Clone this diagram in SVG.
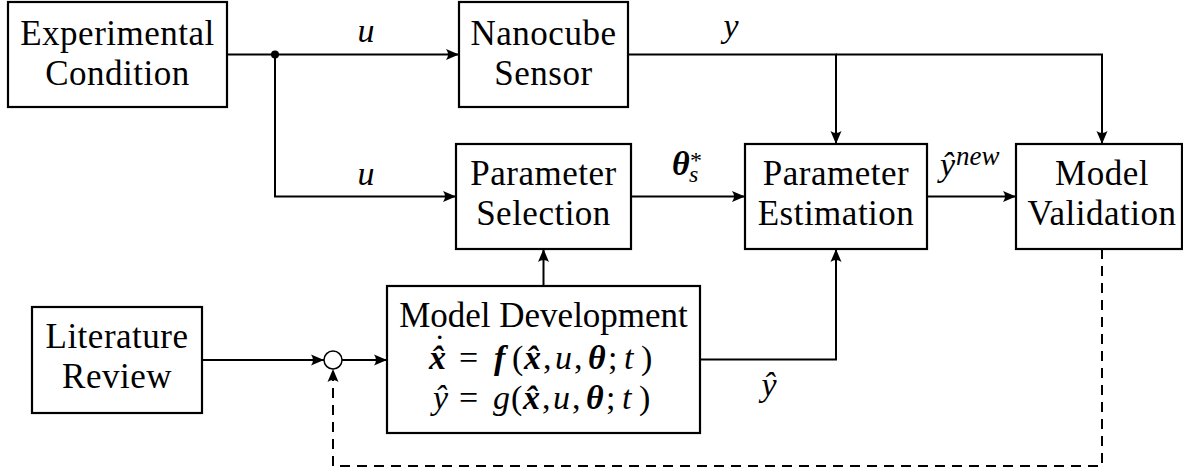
<svg xmlns="http://www.w3.org/2000/svg" width="1183" height="471" viewBox="0 0 1183 471" style="font-family:'Liberation Serif','Times New Roman',Times,serif">
<defs>
<marker id="arr" markerUnits="userSpaceOnUse" markerWidth="16" markerHeight="14" refX="14" refY="7" orient="auto" viewBox="0 0 16 14">
<path d="M14,7 L1,1.5 Q5,7 1,12.5 Z" fill="#000" stroke="none"/>
</marker>
</defs>
<rect width="1183" height="471" fill="#fff"/>

<g id="connectors" fill="none" stroke="#000" stroke-width="2">
<path marker-end="url(#arr)" d="M227,54.5 H459"/>
<circle cx="275" cy="54.5" r="4" fill="#000" stroke="none"/>
<path marker-end="url(#arr)" d="M275,54.5 V196.5 H456"/>
<path marker-end="url(#arr)" d="M628,54.5 H836 V144"/>
<path marker-end="url(#arr)" d="M836,54.5 H1102 V144"/>
<path marker-end="url(#arr)" d="M631,196.5 H745"/>
<path marker-end="url(#arr)" d="M927,196.5 H1016"/>
<path marker-end="url(#arr)" d="M543.5,286 V249"/>
<path marker-end="url(#arr)" d="M700,359.5 H836 V249"/>
<path marker-end="url(#arr)" d="M202,360 H324"/>
<path marker-end="url(#arr)" d="M342,360 H387"/>
<path marker-end="url(#arr)" stroke-dasharray="10 7" d="M1102,249 V466 H333 V369"/>
</g>

<g id="labels" fill="#000" stroke="none">
<text style="font-family:'Liberation Serif',serif;font-size:34px;font-style:italic" x="366" y="42" text-anchor="middle">u</text>
<text style="font-family:'Liberation Serif',serif;font-size:34px;font-style:italic" x="366" y="185" text-anchor="middle">u</text>
<text style="font-family:'Liberation Serif',serif;font-size:34px;font-style:italic" x="731" y="37" text-anchor="middle">y</text>
<text style="font-family:'Liberation Serif',serif;font-size:34px" y="175"><tspan style="font-style:italic;font-weight:bold" x="672">θ</tspan><tspan x="690" y="168" style="font-size:24px">*</tspan><tspan style="font-style:italic;font-size:24px" x="689" y="182">s</tspan></text>
<text style="font-family:'Liberation Serif',serif;font-size:34px;font-style:italic" y="176"><tspan x="940">ŷ</tspan><tspan x="956" y="165" style="font-size:27px">new</tspan></text>
<text style="font-family:'Liberation Serif',serif;font-size:34px;font-style:italic" x="769" y="396" text-anchor="middle">ŷ</text>
</g>

<g id="junction">
<circle cx="333" cy="360" r="9" fill="#fff" stroke="#000" stroke-width="1.5"/>
</g>

<g id="experimental-condition">
<rect x="8" y="2" width="219" height="105" fill="#fff" stroke="#000" stroke-width="2.2"/>
<text style="font-family:'Liberation Serif',serif;font-size:35px;letter-spacing:0.5px" text-anchor="middle" x="117.5" y="45">Experimental</text>
<text style="font-family:'Liberation Serif',serif;font-size:35px;letter-spacing:0.5px" text-anchor="middle" x="117.5" y="85">Condition</text>
</g>

<g id="nanocube-sensor">
<rect x="459" y="2" width="169" height="105" fill="#fff" stroke="#000" stroke-width="2.2"/>
<text style="font-family:'Liberation Serif',serif;font-size:35px;letter-spacing:0.5px" text-anchor="middle" x="543.5" y="45">Nanocube</text>
<text style="font-family:'Liberation Serif',serif;font-size:35px;letter-spacing:0.5px" text-anchor="middle" x="543.5" y="85">Sensor</text>
</g>

<g id="parameter-selection">
<rect x="456" y="144" width="175" height="105" fill="#fff" stroke="#000" stroke-width="2.2"/>
<text style="font-family:'Liberation Serif',serif;font-size:35px;letter-spacing:0.5px" text-anchor="middle" x="543.5" y="185">Parameter</text>
<text style="font-family:'Liberation Serif',serif;font-size:35px;letter-spacing:0.5px" text-anchor="middle" x="543.5" y="225">Selection</text>
</g>

<g id="parameter-estimation">
<rect x="745" y="144" width="182" height="105" fill="#fff" stroke="#000" stroke-width="2.2"/>
<text style="font-family:'Liberation Serif',serif;font-size:35px;letter-spacing:0.5px" text-anchor="middle" x="836" y="185">Parameter</text>
<text style="font-family:'Liberation Serif',serif;font-size:35px;letter-spacing:0.5px" text-anchor="middle" x="836" y="225">Estimation</text>
</g>

<g id="model-validation">
<rect x="1016" y="144" width="166" height="105" fill="#fff" stroke="#000" stroke-width="2.2"/>
<text style="font-family:'Liberation Serif',serif;font-size:35px;letter-spacing:0.5px" text-anchor="middle" x="1102" y="185">Model</text>
<text style="font-family:'Liberation Serif',serif;font-size:35px;letter-spacing:0.5px" text-anchor="middle" x="1102" y="225">Validation</text>
</g>

<g id="literature-review">
<rect x="32" y="307" width="170" height="106" fill="#fff" stroke="#000" stroke-width="2.2"/>
<text style="font-family:'Liberation Serif',serif;font-size:35px;letter-spacing:0.5px" text-anchor="middle" x="117" y="348">Literature</text>
<text style="font-family:'Liberation Serif',serif;font-size:35px;letter-spacing:0.5px" text-anchor="middle" x="117" y="388">Review</text>
</g>

<g id="model-development">
<rect x="387" y="286" width="313" height="147" fill="#fff" stroke="#000" stroke-width="2.2"/>
<text style="font-family:'Liberation Serif',serif;font-size:35px" text-anchor="middle" x="543.5" y="327">Model Development</text>
<text style="font-family:'Liberation Serif',serif;font-size:34px" y="369"><tspan style="font-style:italic;font-weight:bold" x="429">x̂</tspan><tspan x="459">=</tspan><tspan style="font-style:italic;font-weight:bold" x="494">f</tspan><tspan x="512">(</tspan><tspan style="font-style:italic;font-weight:bold" x="524">x̂</tspan><tspan x="543">,</tspan><tspan style="font-style:italic" x="555">u</tspan><tspan x="574">,</tspan><tspan style="font-style:italic;font-weight:bold" x="588">θ</tspan><tspan x="608">;</tspan><tspan style="font-style:italic" x="624">t</tspan><tspan x="641">)</tspan><tspan x="434" y="358">˙</tspan></text>
<text style="font-family:'Liberation Serif',serif;font-size:34px" y="409"><tspan style="font-style:italic" x="433">ŷ</tspan><tspan x="459">=</tspan><tspan style="font-style:italic" x="493">g</tspan><tspan x="511">(</tspan><tspan style="font-style:italic;font-weight:bold" x="523">x̂</tspan><tspan x="542">,</tspan><tspan style="font-style:italic" x="553">u</tspan><tspan x="572">,</tspan><tspan style="font-style:italic;font-weight:bold" x="586">θ</tspan><tspan x="606">;</tspan><tspan style="font-style:italic" x="622">t</tspan><tspan x="639">)</tspan></text>
</g>
</svg>
